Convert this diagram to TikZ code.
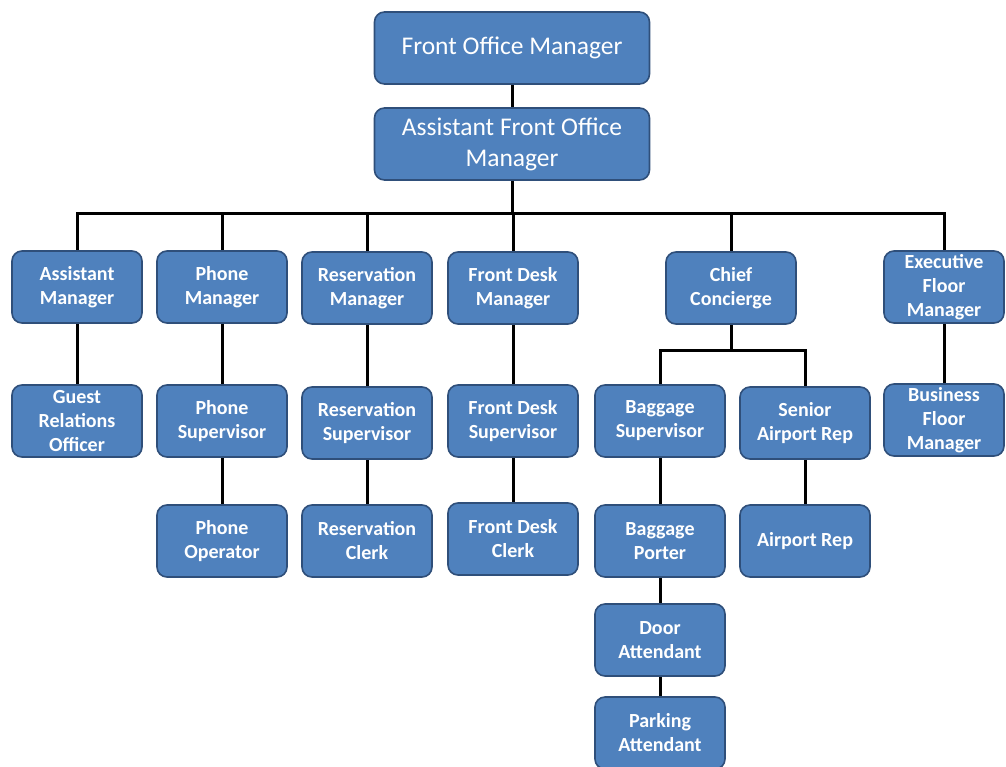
\documentclass[tikz,border=0pt]{standalone}
\usepackage{fontspec}
\setmainfont{Carlito}
\usetikzlibrary{positioning,backgrounds}
\definecolor{boxblue}{HTML}{4F81BD}
\definecolor{boxedge}{HTML}{2F4F7A}
\tikzset{
  rolebox/.style={rectangle, rounded corners=10pt, draw=boxedge, line width=1.6pt,
    fill=boxblue, text=white, align=center, inner sep=1pt,
    minimum width=130pt, minimum height=72pt,
    font=\fontsize{20}{24}\selectfont\bfseries},
  headbox/.style={rolebox, minimum width=275pt, font=\fontsize{25.5}{31}\selectfont},
  link/.style={line width=3pt, draw=black},
}
\begin{document}
\begin{tikzpicture}[x=1pt, y=-1pt]
  \useasboundingbox (0,0) rectangle (1006,766);
  % top of the chart
  \node[headbox] (fom) at (512,48) {Front Office Manager};
  \node[headbox] (afom) at (512,144) {Assistant Front Office\\ Manager};
  \coordinate (bus) at (512,213);
  % department heads
  \node[rolebox] (am) at (77,287) {Assistant\\ Manager};
  \node[rolebox] (pm) at (222,287) {Phone\\ Manager};
  \node[rolebox] (rm) at (367,288) {Reservation\\ Manager};
  \node[rolebox] (fdm) at (513,288) {Front Desk\\ Manager};
  \node[rolebox] (cc) at (731,288) {Chief\\ Concierge};
  \node[rolebox, minimum width=120pt] (efm) at (944,287) {Executive\\ Floor\\ Manager};
  % second level
  \node[rolebox] (gro) at (77,421) {Guest\\ Relations\\ Officer};
  \node[rolebox] (ps) at (222,421) {Phone\\ Supervisor};
  \node[rolebox] (rs) at (367,423) {Reservation\\ Supervisor};
  \node[rolebox] (fds) at (513,421) {Front Desk\\ Supervisor};
  \node[rolebox] (bs) at (660,421) {Baggage\\ Supervisor};
  \node[rolebox] (sar) at (805,423) {Senior\\ Airport Rep};
  \node[rolebox, minimum width=120pt] (bfm) at (944,420) {Business\\ Floor\\ Manager};
  \coordinate (cbus) at (731,350);
  % third level and below
  \node[rolebox] (po) at (222,541) {Phone\\ Operator};
  \node[rolebox] (rc) at (367,541) {Reservation\\ Clerk};
  \node[rolebox] (fdc) at (513,539) {Front Desk\\ Clerk};
  \node[rolebox] (bp) at (660,541) {Baggage\\ Porter};
  \node[rolebox] (ar) at (805,541) {Airport Rep};
  \node[rolebox] (da) at (660,640) {Door\\ Attendant};
  \node[rolebox] (pa) at (660,733) {Parking\\ Attendant};
  % connectors
  \begin{scope}[on background layer]
  \draw[link] (fom) -- (afom);
  \draw[link] (afom) -- (bus);
  \foreach \n in {am,pm,rm,fdm,cc,efm}
    \draw[link] (bus) -| (\n.north);
  \draw[link] (am) -- (gro);
  \draw[link] (pm) -- (ps);
  \draw[link] (ps) -- (po);
  \draw[link] (rm) -- (rs);
  \draw[link] (rs) -- (rc);
  \draw[link] (fdm) -- (fds);
  \draw[link] (fds) -- (fdc);
  \draw[link] (cc) -- (cbus);
  \draw[link] (cbus) -| (bs.north);
  \draw[link] (cbus) -| (sar.north);
  \draw[link] (bs) -- (bp);
  \draw[link] (bp) -- (da);
  \draw[link] (da) -- (pa);
  \draw[link] (sar) -- (ar);
  \draw[link] (efm) -- (bfm);
  \end{scope}
\end{tikzpicture}
\end{document}
